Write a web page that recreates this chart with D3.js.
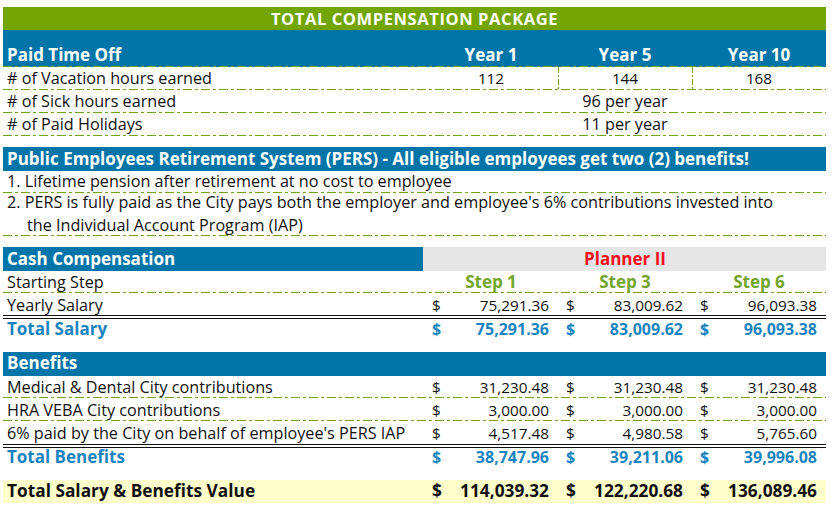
<!DOCTYPE html>
<meta charset="utf-8">
<style type="text/css">
    body { margin: 0; background: white; }
    svg text { font-family: "Open Sans", "Noto Sans", sans-serif; font-size: 16.2px; fill: #111; }
    svg .num { font-size: 15.3px; }
    svg .head { fill: white; font-weight: bold; font-size: 17px; }
    svg .title { fill: white; font-weight: bold; font-size: 16.5px; letter-spacing: 0.6px; }
    svg .blue { fill: #1a84bf; font-weight: bold; font-size: 17px; }
    svg .bluenum { fill: #1a84bf; font-weight: bold; font-size: 16px; }
    svg .bold { font-weight: bold; font-size: 17.3px; }
    svg .step { fill: #72a52a; font-weight: bold; font-size: 17px; }
    svg .planner { fill: #f01020; font-weight: bold; font-size: 17px; }
</style>
<body>
<script src="https://cdn.jsdelivr.net/npm/d3@7"></script>
<script>
    // data
    var years = ["Year 1", "Year 5", "Year 10"];
    var vacationHours = [112, 144, 168];
    var sickHours = "96 per year";
    var paidHolidays = "11 per year";
    var persLines = ["1. Lifetime pension after retirement at no cost to employee",
        "2.  PERS is fully paid as the City pays both the employer and employee's 6% contributions invested into",
        "the Individual Account Program (IAP)"];
    var jobTitle = "Planner II";
    var steps = ["Step 1", "Step 3", "Step 6"];
    var yearlySalary = [75291.36, 83009.62, 96093.38];
    var totalSalary = [75291.36, 83009.62, 96093.38];
    var medicalDental = [31230.48, 31230.48, 31230.48];
    var hraVeba = [3000.00, 3000.00, 3000.00];
    var persIap = [4517.48, 4980.58, 5765.60];
    var totalBenefits = [38747.96, 39211.06, 39996.08];
    var totalValue = [114039.32, 122220.68, 136089.46];

    var w = 832, h = 506;
    var left = 3, right = 826, split = 424;
    var fmt = d3.format(",.2f");

    var svg = d3.select("body").append("svg").attr("width", w).attr("height", h);

    // three value columns
    var col = d3.scaleBand().domain([0, 1, 2]).range([split, right]);
    var bw = col.bandwidth();

    function band(y, hh, color, x0, x1) {
        svg.append("rect").attr("x", x0 || left).attr("y", y)
            .attr("width", (x1 || right) - (x0 || left)).attr("height", hh).attr("fill", color);
    }
    function dash(y) {
        svg.append("line").attr("x1", left).attr("x2", right).attr("y1", y + 0.5).attr("y2", y + 0.5)
            .attr("stroke", "#74a400").attr("stroke-width", 1.2).attr("stroke-dasharray", "9,3,3,3");
    }
    function dbl(y) {
        [y, y + 3].forEach(function(yy) {
            svg.append("line").attr("x1", left).attr("x2", right).attr("y1", yy + 0.5).attr("y2", yy + 0.5)
                .attr("stroke", "#111").attr("stroke-width", 1.2);
        });
    }
    function label(txt, y, cls, x) {
        return svg.append("text").attr("x", x || 7).attr("y", y).attr("class", cls || null).text(txt);
    }
    function centered(values, y, cls, f) {
        svg.selectAll(null).data(values).enter().append("text")
            .attr("x", function(d, i) { return col(i) + bw / 2; })
            .attr("y", y).attr("text-anchor", "middle").attr("class", cls || null)
            .text(function(d) { return f ? f(d) : d; });
    }
    function money(values, y, cls) {
        svg.selectAll(null).data(values).enter().append("text")
            .attr("x", function(d, i) { return col(i) + 8; })
            .attr("y", y).attr("class", cls).text("$");
        svg.selectAll(null).data(values).enter().append("text")
            .attr("x", function(d, i) { return col(i) + bw - 9; })
            .attr("y", y).attr("text-anchor", "end").attr("class", cls)
            .text(function(d) { return fmt(d); });
    }

    // title
    band(7, 23, "#72a500");
    svg.append("text").attr("x", (left + right) / 2).attr("y", 24.5).attr("text-anchor", "middle")
        .attr("class", "title").text("TOTAL COMPENSATION PACKAGE");

    // paid time off
    band(30, 37, "#0175a8");
    label("Paid Time Off", 61, "head");
    centered(years, 61, "head");
    label("# of Vacation hours earned", 84);
    centered(vacationHours, 84, "num");
    col.domain().slice(1).forEach(function(i) {
        svg.append("line").attr("x1", col(i) + 0.5).attr("x2", col(i) + 0.5).attr("y1", 67).attr("y2", 90)
            .attr("stroke", "#74a400").attr("stroke-width", 1).attr("stroke-dasharray", "6,2,2,2");
    });
    label("# of Sick hours earned", 107);
    label(sickHours, 107, null, col(1) + bw / 2).attr("text-anchor", "middle");
    label("# of Paid Holidays", 130);
    label(paidHolidays, 130, null, col(1) + bw / 2).attr("text-anchor", "middle");
    [66, 89, 112, 135].forEach(dash);

    // PERS
    band(147, 24, "#0175a8");
    label("Public Employees Retirement System (PERS) - All eligible employees get two (2) benefits!", 165, "head");
    label(persLines[0], 187);
    label(persLines[1], 208);
    label(persLines[2], 231, null, 27);
    [192, 235].forEach(dash);

    // cash compensation
    band(247, 24, "#0175a8", left, split - 1);
    band(247, 24, "#e6e6e6", split - 1, right);
    label("Cash Compensation", 265, "head");
    label(jobTitle, 265, "planner", col(1) + bw / 2).attr("text-anchor", "middle");
    label("Starting Step", 288);
    centered(steps, 288, "step");
    dash(292);
    label("Yearly Salary", 311);
    money(yearlySalary, 311, "num");
    dbl(315);
    label("Total Salary", 335, "blue");
    money(totalSalary, 335, "bluenum");

    // benefits
    band(352, 24, "#0175a8");
    label("Benefits", 369, "head");
    label("Medical & Dental City contributions", 393);
    money(medicalDental, 393, "num");
    label("HRA VEBA City contributions", 416);
    money(hraVeba, 416, "num");
    label("6% paid by the City on behalf of employee's PERS IAP", 439);
    money(persIap, 439, "num");
    [397, 420].forEach(dash);
    dbl(444);
    label("Total Benefits", 463, "blue");
    money(totalBenefits, 463, "bluenum");

    // grand total
    band(480, 23, "#ffffcc");
    label("Total Salary & Benefits Value", 497, "bold");
    money(totalValue, 497, "bold");
</script>
</body>
